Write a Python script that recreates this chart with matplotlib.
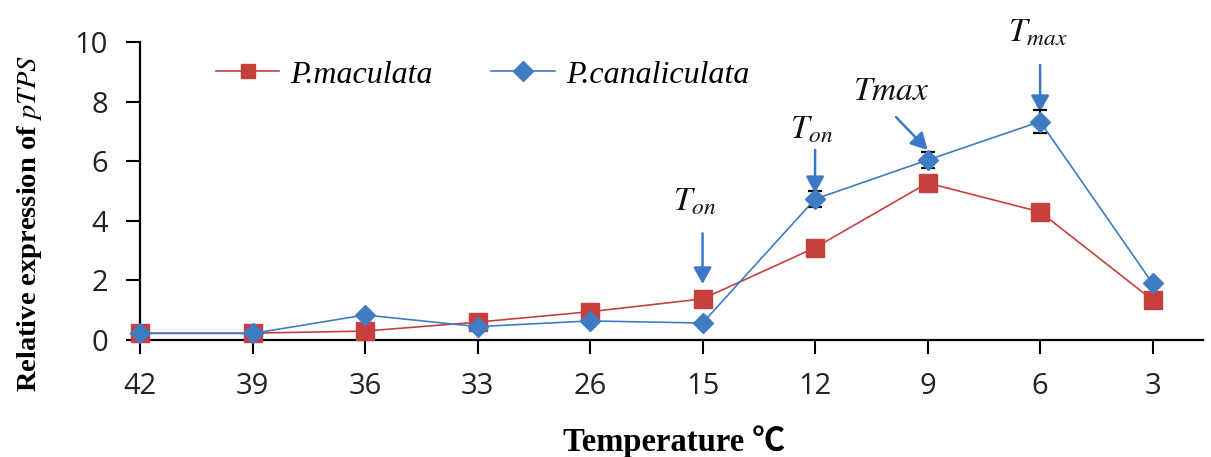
import matplotlib
matplotlib.use("Agg")
import matplotlib.pyplot as plt

# data
temps = ['42', '39', '36', '33', '26', '15', '12', '9', '6', '3']
maculata = [0.23, 0.23, 0.30, 0.60, 0.95, 1.38, 3.10, 5.27, 4.30, 1.34]
canaliculata = [0.22, 0.22, 0.84, 0.45, 0.64, 0.57, 4.73, 6.04, 7.33, 1.90]
canal_err = [0, 0, 0, 0, 0, 0, 0.27, 0.26, 0.38, 0]

plt.rcParams['mathtext.fontset'] = 'stix'

RED = '#C8403D'
BLUE = '#3F7CC4'
ARROW = '#3C78C8'

fig = plt.figure(figsize=(12.11, 4.57), dpi=100)
ax = fig.add_axes([0.1156, 0.256, 0.878, 0.652])

x = list(range(len(temps)))
ax.plot(x, maculata, color=RED, lw=1.2, marker='s', ms=13,
        mec=RED, mfc=RED, label='P.maculata', clip_on=False, zorder=3)
ax.plot(x, canaliculata, color=BLUE, lw=1.2, marker='D', ms=10,
        mec=BLUE, mfc=BLUE, label='P.canaliculata', clip_on=False, zorder=4)
# error bars only where there is one
ex = [i for i in x if canal_err[i] > 0]
ax.errorbar(ex, [canaliculata[i] for i in ex], yerr=[canal_err[i] for i in ex],
            fmt='none', ecolor='black', elinewidth=1.5, capsize=5, capthick=1.6,
            zorder=3.5, clip_on=False)

ax.set_xlim(0, 9.45)
ax.set_ylim(0, 10)
ax.set_yticks([0, 2, 4, 6, 8, 10])
ax.set_xticks(x)
ax.set_xticklabels(temps)
for s in ['top', 'right']:
    ax.spines[s].set_visible(False)
for s in ['left', 'bottom']:
    ax.spines[s].set_linewidth(1.6)
ax.tick_params(axis='both', direction='out', length=10, width=1.5,
               labelsize=21, pad=13)
for lab in ax.get_xticklabels() + ax.get_yticklabels():
    lab.set_family('Open Sans')
    lab.set_color('#222222')

# arrows + labels (offsets relative to the data points)
arrow_kw = dict(arrowstyle='-|>,head_width=0.55,head_length=1.0',
                color=ARROW, lw=1.8, shrinkA=0, shrinkB=0)
txt_kw = dict(ha='center', va='center', fontsize=24, color='#111111',
              annotation_clip=False)

# 15 (index 5)
ax.annotate('', xy=(5, maculata[5] + 0.5), xytext=(5, maculata[5] + 2.2),
            arrowprops=arrow_kw, annotation_clip=False)
ax.annotate('$T_{on}$', xy=(4.93, maculata[5] + 3.3), **txt_kw)
# 12 (index 6)
ax.annotate('', xy=(6, canaliculata[6] + 0.2), xytext=(6, canaliculata[6] + 1.65),
            arrowprops=arrow_kw, annotation_clip=False)
ax.annotate('$T_{on}$', xy=(5.97, canaliculata[6] + 2.35), **txt_kw)
# 9 (index 7)
ax.annotate('', xy=(7, canaliculata[7] + 0.34), xytext=(6.72, canaliculata[7] + 1.44),
            arrowprops=arrow_kw, annotation_clip=False)
ax.annotate('$T\\mathregular{\\it{max}}$', xy=(6.68, canaliculata[7] + 2.35),
            **txt_kw)
# 6 (index 8)
ax.annotate('', xy=(8, canaliculata[8] + 0.32), xytext=(8, canaliculata[8] + 1.9),
            arrowprops=arrow_kw, annotation_clip=False)
ax.annotate('$T_{max}$', xy=(7.98, canaliculata[8] + 3.0), **txt_kw)

leg = ax.legend(loc='center left', bbox_to_anchor=(0.178, 0.836),
                bbox_transform=fig.transFigure, ncol=2, frameon=False,
                handlelength=2.0, handletextpad=0.35, columnspacing=1.8,
                borderpad=0, borderaxespad=0,
                prop={'family': 'Liberation Serif', 'style': 'italic', 'size': 23})
for h in leg.legend_handles:
    h.set_markersize(10)

fig.text(30 / 1211, 1 - 223 / 457, 'Relative expression of $\\mathit{pTPS}$',
         rotation=90, ha='center', va='center', fontsize=20.5, fontweight='bold',
         family='Liberation Serif')
fig.text(674 / 1211, 1 - 442 / 457, 'Temperature ℃', ha='center', va='center',
         fontsize=23.5, fontweight='bold',
         family=['Liberation Serif', 'Noto Sans CJK SC'])

fig.savefig('out.png', dpi=100)
